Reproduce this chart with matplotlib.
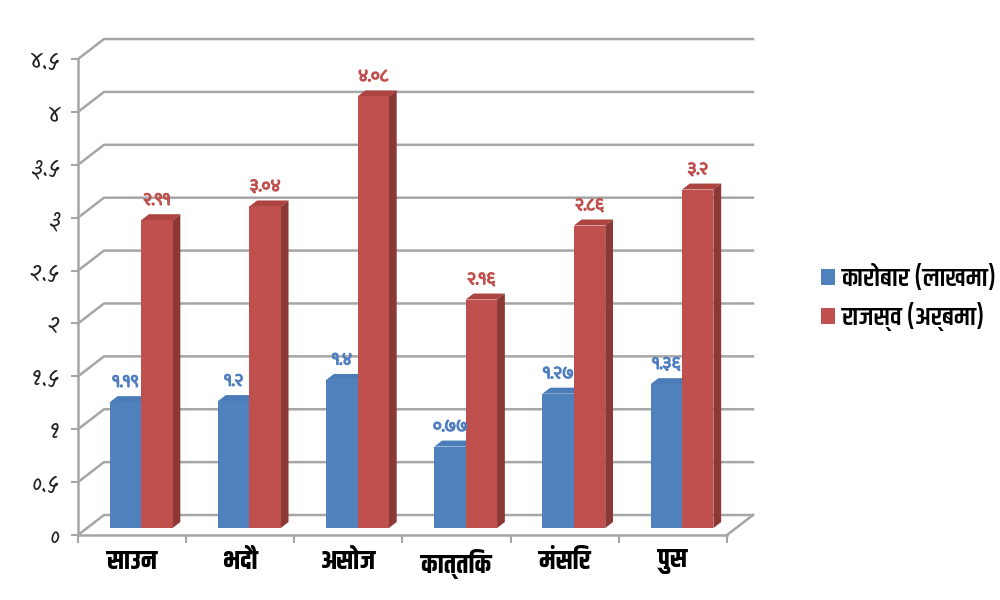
import numpy as np
import matplotlib
matplotlib.use('Agg')
import matplotlib.pyplot as plt
import matplotlib.patheffects as pe
from matplotlib import transforms
from matplotlib.patches import Polygon

months = ['साउन', 'भदौ', 'असोज', 'कात्तिक', 'मंसिर', 'पुस']
turnover = [1.19, 1.2, 1.4, 0.77, 1.27, 1.36]
revenue = [2.91, 3.04, 4.08, 2.16, 2.86, 3.2]
turnover_labels = ['१.१९', '१.२', '१.४', '०.७७', '१.२७', '१.३६']
revenue_labels = ['२.९१', '३.०४', '४.०८', '२.१६', '२.८६', '३.२']
yticks = [0, 0.5, 1, 1.5, 2, 2.5, 3, 3.5, 4, 4.5]
ytick_labels = ['०', '०.५', '१', '१.५', '२', '२.५', '३', '३.५', '४', '४.५']
series_names = ['कारोबार (लाखमा)', 'राजस्व (अर्बमा)']

plt.rcParams['font.family'] = ['Noto Sans Devanagari', 'DejaVu Sans']
label_font = ['Khand', 'Noto Sans Devanagari', 'DejaVu Sans']
tick_font = ['Kalam', 'Noto Sans Devanagari', 'DejaVu Sans']
num_font = ['Baloo 2', 'Noto Sans Devanagari', 'DejaVu Sans']

fig = plt.figure(figsize=(10, 6), dpi=100)
ax = fig.add_axes([0.078, 0.1083, 0.649, 0.7933])
ax.set_xlim(-0.5, 5.5)
ax.set_ylim(0, 4.5)

DX, DY = 26, 20  # depth of the 3d box in pixels
grid_col = '#a6a6a6'


def shift(x, y, f):
    px, py = ax.transData.transform((x, y))
    return ax.transData.inverted().transform((px + f * DX, py + f * DY))


# back wall gridlines
for v in yticks:
    p = shift(-0.5, v, 1)
    q = shift(5.5, v, 1)
    ax.plot([-0.5, p[0], q[0]], [v, p[1], q[1]], color=grid_col, lw=1.8,
            clip_on=False, zorder=1)
# floor right edge
q = shift(5.5, 0, 1)
ax.plot([5.5, q[0]], [0, q[1]], color=grid_col, lw=1.8, clip_on=False, zorder=1)

f0, fb = 0.35, 0.3
off = transforms.ScaledTranslation(f0 * DX / 100, f0 * DY / 100, fig.dpi_scale_trans)
x = np.arange(len(months))
w = 0.29
colors = [('#4f81bd', '#4a7cb8', '#385d8a'), ('#c0504d', '#ad4440', '#8c3836')]
handles = []
for k, (vals, xs) in enumerate([(turnover, x - w / 2), (revenue, x + w / 2)]):
    front, top, side = colors[k]
    for xi, v in zip(xs, vals):
        x0, x1 = xi - w / 2, xi + w / 2
        a0, a1 = shift(x0, v, f0), shift(x1, v, f0)
        b0, b1 = shift(x0, v, f0 + fb), shift(x1, v, f0 + fb)
        c0, c1 = shift(x1, 0, f0), shift(x1, 0, f0 + fb)
        ax.add_patch(Polygon([a0, a1, b1, b0], closed=True, fc=top, ec='none',
                             zorder=2 + k * 0.1, clip_on=False))
        ax.add_patch(Polygon([c0, a1, b1, c1], closed=True, fc=side, ec='none',
                             zorder=2 + k * 0.1, clip_on=False))
    bars = ax.bar(xs, vals, w, color=front, zorder=2.05 + k * 0.1,
                  transform=ax.transData + off, clip_on=False,
                  label=series_names[k])
    handles.append(bars)

# value labels (a thin stroke to make them look bold)
lab_trans = ax.transData + off
for xs, vals, labels, col in [(x - w / 2, turnover, turnover_labels, '#4f7fc0'),
                              (x + w / 2, revenue, revenue_labels, '#c0504d')]:
    for xi, v, t in zip(xs, vals, labels):
        ax.annotate(t, (xi, v), xycoords=lab_trans, xytext=(0, 14),
                    textcoords='offset points', ha='center', va='center',
                    color=col, fontsize=13, fontweight='bold',
                    family=num_font, zorder=5,
                    path_effects=[pe.withStroke(linewidth=0.9, foreground=col)])

for s in ['top', 'right']:
    ax.spines[s].set_visible(False)
for s in ['left', 'bottom']:
    ax.spines[s].set_color(grid_col)
    ax.spines[s].set_linewidth(1.8)

ax.set_yticks(yticks)
ax.set_yticklabels(ytick_labels, fontsize=18, color='#222222', family=tick_font)
ax.tick_params(axis='y', length=5, width=1.5, color=grid_col, pad=8)
ax.set_xticks(x)
ax.set_xticklabels(months, fontsize=19, color='black', fontweight='bold',
                   family=label_font)
ax.set_xticks(np.arange(-0.5, 6, 1), minor=True)
ax.tick_params(axis='x', which='major', length=0, pad=10)
ax.tick_params(axis='x', which='minor', length=6, width=1.5, color=grid_col)

ax.legend(handles=handles, loc='center left', bbox_to_anchor=(0.797, 0.505),
          bbox_transform=fig.transFigure, frameon=False,
          prop={'family': label_font, 'size': 19, 'weight': 'semibold'},
          handlelength=0.55, handleheight=0.55, handletextpad=0.25,
          labelspacing=0.45)

fig.savefig('out.png', dpi=100)
